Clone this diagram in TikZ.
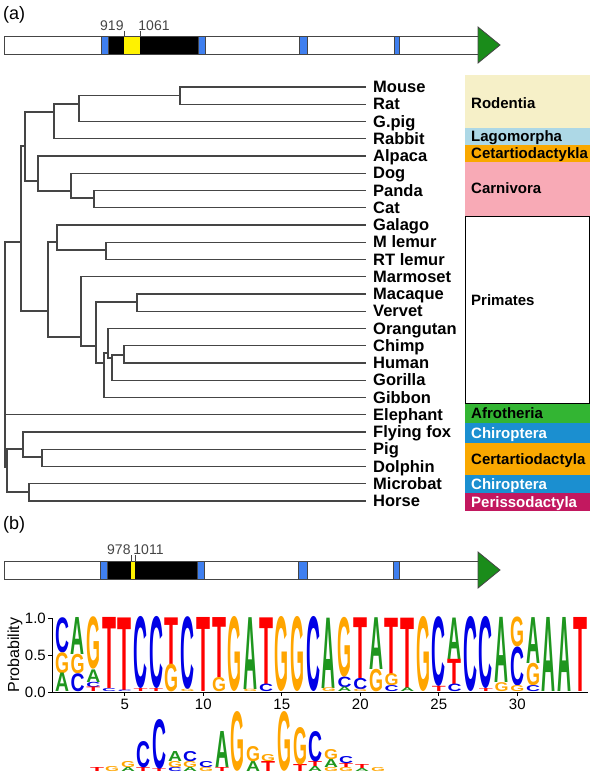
\documentclass[tikz,border=0pt]{standalone}
\usepackage{fontspec}
\setmainfont{Liberation Sans}
\usepackage{graphicx}

\definecolor{rodcol}{HTML}{F6F0C8}
\definecolor{lagcol}{HTML}{ADD8E6}
\definecolor{artcol}{HTML}{F9A800}
\definecolor{carcol}{HTML}{F8AAB6}
\definecolor{afrcol}{HTML}{33B533}
\definecolor{chicol}{HTML}{1B8FD0}
\definecolor{percol}{HTML}{C2185F}
\definecolor{exoncol}{HTML}{3F7FEF}
\definecolor{arrcol}{HTML}{1A8C1A}
\definecolor{treecol}{HTML}{454545}
\definecolor{baseA}{HTML}{1E961E}
\definecolor{baseC}{HTML}{0000E6}
\definecolor{baseG}{HTML}{FFA500}
\definecolor{baseT}{HTML}{FF0000}

\tikzset{
  branch/.style={draw=treecol, line width=1.1pt},
  species/.style={anchor=base west, inner sep=0pt, font=\fontsize{16.5}{18}\selectfont\bfseries},
  clade/.style={anchor=base west, inner sep=0pt, font=\fontsize{15}{17}\selectfont\bfseries},
  panel/.style={anchor=west, inner sep=0pt, font=\fontsize{18}{20}\selectfont},
  poslab/.style={inner sep=0pt, font=\fontsize{14}{16}\selectfont},
  axislab/.style={inner sep=0pt, font=\fontsize{15}{17}\selectfont},
  gene/.style={fill=white, draw=treecol, line width=0.9pt},
  exon/.style={fill=exoncol, draw=treecol, line width=0.8pt},
  tip/.style={fill=arrcol, draw=treecol, line width=0.8pt},
}

% x, y bottom, y top, letter, colour
\newcommand{\seqlet}[5]{%
  \pgfmathsetmacro\lgh{#2-#3}%
  \node[inner sep=0pt, anchor=south, text=#5] at (#1,#2) {\resizebox{14pt}{\lgh pt}{\bfseries #4}};}
% column, p low, p high, letter, colour
\newcommand{\toplet}[5]{%
  \pgfmathsetmacro\lgx{62+15.7*(#1-1)}%
  \pgfmathsetmacro\lglo{692-74*#2}%
  \pgfmathsetmacro\lghi{692-74*#3}%
  \seqlet{\lgx}{\lglo}{\lghi}{#4}{#5}}

\begin{document}
\begin{tikzpicture}[x=1pt, y=-1pt]
  \useasboundingbox (0,0) rectangle (600,777);

  % (a) gene bar
  \node[panel] (pa) at (3,15) {(a)};
  \draw[gene] (4,36) rectangle (478,54);
  \fill[black] (108,36) rectangle (198,54);
  \draw[treecol, line width=0.9pt] (108,36) -- (198,36) (108,54) -- (198,54);
  \fill[yellow] (124,36.5) rectangle (140,53.5);
  \foreach \xa/\xb in {101/108, 198/205, 299/307, 394/399}
    \draw[exon] (\xa,36) rectangle (\xb,54);
  \draw[tip] (478,27) -- (500,45) -- (478,63) -- cycle;
  \coordinate (ta) at (124,36);
  \coordinate (tb) at (140,36);
  \draw[treecol, line width=0.9pt] (ta) -- ++(0,-5) node[poslab, anchor=south east] (la) {919};
  \draw[treecol, line width=0.9pt] (tb) -- ++(0,-5) node[poslab, anchor=south west, xshift=-2pt] (lb) {1061};

  % tree
  \foreach \sp [count=\i from 0] in {Mouse,Rat,G.pig,Rabbit,Alpaca,Dog,Panda,Cat,Galago,M lemur,RT lemur,Marmoset,Macaque,Vervet,Orangutan,Chimp,Human,Gorilla,Gibbon,Elephant,Flying fox,Pig,Dolphin,Microbat,Horse} {
    \coordinate (leaf\i) at (366,{87+17.25*\i});
    \node[species] (lab\i) at (373,{92.5+17.25*\i}) {\sp};
  }
  \coordinate (nMR) at (180,95.5);
  \coordinate (nRod) at (79,104);
  \coordinate (nGli) at (54,112);
  \coordinate (nPC) at (94,198);
  \coordinate (nCar) at (71,191);
  \coordinate (nLau) at (38,181);
  \coordinate (nTop) at (25,146);
  \coordinate (nLem) at (106,250);
  \coordinate (nStr) at (57,242);
  \coordinate (nOwm) at (137,302);
  \coordinate (nHC) at (124,355);
  \coordinate (nHCG) at (112,358);
  \coordinate (nGA) at (108,353);
  \coordinate (nApe) at (104,363);
  \coordinate (nCat) at (96,346);
  \coordinate (nHap) at (81,337);
  \coordinate (nPri) at (48,311);
  \coordinate (nBor) at (21,242);
  \coordinate (nPD) at (42,457);
  \coordinate (nFPD) at (23,449);
  \coordinate (nMH) at (29,492);
  \coordinate (nLB) at (7,467);
  \coordinate (nRoot) at (5,330);
  \foreach \a/\b in {nMR/leaf0, nMR/leaf1, nRod/nMR, nRod/leaf2, nGli/nRod, nGli/leaf3,
      nTop/nGli, nTop/nLau, nLau/leaf4, nLau/nCar, nCar/leaf5, nCar/nPC, nPC/leaf6, nPC/leaf7,
      nBor/nTop, nBor/nPri, nPri/nStr, nPri/nHap, nStr/leaf8, nStr/nLem, nLem/leaf9, nLem/leaf10,
      nHap/leaf11, nHap/nCat, nCat/nOwm, nCat/nApe, nOwm/leaf12, nOwm/leaf13,
      nApe/nGA, nApe/leaf18, nGA/leaf14, nGA/nHCG, nHCG/nHC, nHCG/leaf17, nHC/leaf15, nHC/leaf16,
      nRoot/nBor, nRoot/leaf19, nRoot/nLB, nLB/nFPD, nLB/nMH, nFPD/leaf20, nFPD/nPD,
      nPD/leaf21, nPD/leaf22, nMH/leaf23, nMH/leaf24}
    \draw[branch] (\a) |- (\b);

  % clade boxes
  \foreach \ya/\yb/\yl/\col/\txt/\tcol [count=\j] in {
      75/128/108/rodcol/Rodentia/black,
      128/145/141/lagcol/Lagomorpha/black,
      145/162/158/artcol/Cetartiodactykla/black,
      162/215.5/193/carcol/Carnivora/black,
      403/423/418.5/afrcol/Afrotheria/black,
      423/443/438.5/chicol/Chiroptera/white,
      443/475/464/artcol/Certartiodactyla/black,
      475/493/489/chicol/Chiroptera/white,
      493/511/507.5/percol/Perissodactyla/white} {
    \fill[\col] (465,\ya) rectangle (590,\yb);
    \node[clade, text=\tcol] (clade\j) at (471,\yl) {\txt};
  }
  \draw[black, line width=0.9pt] (465,216) rectangle (589.5,403);
  \node[clade] (primates) at (471,305.5) {Primates};

  % (b) gene bar
  \node[panel] (pb) at (3,525) {(b)};
  \draw[gene] (4,561) rectangle (478,579);
  \fill[black] (107,561) rectangle (197,579);
  \draw[treecol, line width=0.9pt] (107,561) -- (197,561) (107,579) -- (197,579);
  \fill[yellow] (131,561.5) rectangle (135,578.5);
  \foreach \xa/\xb in {100/107, 197/204, 298/307, 393/399}
    \draw[exon] (\xa,561) rectangle (\xb,579);
  \draw[tip] (478,552) -- (500,570) -- (478,588) -- cycle;
  \coordinate (tc) at (131,561);
  \coordinate (td) at (135,561);
  \draw[treecol, line width=0.9pt] (tc) -- ++(0,-6) node[poslab, anchor=south east] (lc) {978};
  \draw[treecol, line width=0.9pt] (td) -- ++(0,-6) node[poslab, anchor=south west, xshift=-2pt] (ld) {1011};

  % logo axes
  \draw[black, line width=0.9pt] (52,618) -- (52,692) -- (588,692);
  \foreach \p/\yy in {0.0/692, 0.5/655, 1.0/618} {
    \draw[black, line width=0.9pt] (52,\yy) -- (48,\yy);
    \node[axislab, anchor=east] at (46,\yy) {\p};
  }
  \foreach \c in {5,10,15,20,25,30} {
    \draw[black, line width=0.9pt] ({62+15.7*(\c-1)},692) -- ++(0,4);
    \node[axislab, anchor=north] at ({62+15.7*(\c-1)},699) {\c};
  }
  \node[axislab, rotate=90, font=\fontsize{16}{18}\selectfont] (prob) at (15,655) {Probability};

  % logo letters
  \toplet{1}{.53}{1}{C}{baseC} \toplet{1}{.25}{.53}{G}{baseG} \toplet{1}{0}{.25}{A}{baseA}
  \toplet{2}{.5}{1}{A}{baseA} \toplet{2}{.24}{.5}{G}{baseG} \toplet{2}{0}{.24}{C}{baseC}
  \toplet{3}{.3}{1}{G}{baseG} \toplet{3}{.13}{.3}{A}{baseA} \toplet{3}{.06}{.13}{C}{baseC} \toplet{3}{0}{.06}{T}{baseT}
  \toplet{4}{.04}{1}{T}{baseT} \toplet{4}{0}{.04}{C}{baseC}
  \toplet{5}{.02}{1}{T}{baseT} \toplet{5}{0}{.02}{C}{baseC}
  \toplet{6}{.04}{1}{C}{baseC} \toplet{6}{0}{.04}{T}{baseT}
  \toplet{7}{.04}{1}{C}{baseC} \toplet{7}{0}{.04}{T}{baseT}
  \toplet{8}{.37}{1}{T}{baseT} \toplet{8}{0}{.37}{G}{baseG}
  \toplet{9}{.03}{1}{C}{baseC} \toplet{9}{0}{.03}{G}{baseG}
  \toplet{10}{0}{1}{T}{baseT}
  \toplet{11}{.19}{1}{T}{baseT} \toplet{11}{0}{.19}{G}{baseG}
  \toplet{12}{0}{1}{G}{baseG}
  \toplet{13}{.03}{1}{A}{baseA} \toplet{13}{0}{.03}{G}{baseG}
  \toplet{14}{.1}{1}{T}{baseT} \toplet{14}{0}{.1}{C}{baseC}
  \toplet{15}{0}{1}{G}{baseG}
  \toplet{16}{0}{1}{G}{baseG}
  \toplet{17}{0}{1}{C}{baseC}
  \toplet{18}{.05}{1}{A}{baseA} \toplet{18}{0}{.05}{G}{baseG}
  \toplet{19}{.2}{1}{G}{baseG} \toplet{19}{.06}{.2}{C}{baseC} \toplet{19}{0}{.06}{A}{baseA}
  \toplet{20}{.18}{1}{T}{baseT} \toplet{20}{.03}{.18}{C}{baseC} \toplet{20}{0}{.03}{G}{baseG}
  \toplet{21}{.3}{1}{A}{baseA} \toplet{21}{0}{.3}{G}{baseG}
  \toplet{22}{.24}{1}{T}{baseT} \toplet{22}{.08}{.24}{G}{baseG} \toplet{22}{0}{.08}{C}{baseC}
  \toplet{23}{.05}{1}{T}{baseT} \toplet{23}{0}{.05}{A}{baseA}
  \toplet{24}{0}{1}{G}{baseG}
  \toplet{25}{.07}{1}{C}{baseC} \toplet{25}{0}{.07}{T}{baseT}
  \toplet{26}{.44}{1}{A}{baseA} \toplet{26}{.1}{.44}{T}{baseT} \toplet{26}{0}{.1}{C}{baseC}
  \toplet{27}{0}{1}{C}{baseC}
  \toplet{28}{.04}{1}{C}{baseC} \toplet{28}{0}{.04}{T}{baseT}
  \toplet{29}{.12}{1}{A}{baseA} \toplet{29}{0}{.12}{G}{baseG}
  \toplet{30}{.6}{1}{G}{baseG} \toplet{30}{.08}{.6}{C}{baseC} \toplet{30}{0}{.08}{G}{baseG}
  \toplet{31}{.38}{1}{A}{baseA} \toplet{31}{.08}{.38}{G}{baseG} \toplet{31}{0}{.08}{C}{baseC}
  \toplet{32}{0}{1}{A}{baseA}
  \toplet{33}{0}{1}{A}{baseA}
  \toplet{34}{0}{1}{T}{baseT}

  % second logo, cut at the bottom
  \seqlet{97}{772}{768}{T}{baseT}
  \seqlet{112}{772}{767}{G}{baseG}
  \seqlet{128}{772}{768}{A}{baseA} \seqlet{128}{768}{762}{G}{baseG}
  \seqlet{143}{772}{768}{T}{baseT} \seqlet{143}{768}{742}{C}{baseC}
  \seqlet{159}{772}{769}{T}{baseT} \seqlet{159}{769}{720}{C}{baseC}
  \seqlet{175}{772}{768}{C}{baseC} \seqlet{175}{768}{762}{G}{baseG} \seqlet{175}{762}{752}{A}{baseA}
  \seqlet{190}{772}{768}{A}{baseA} \seqlet{190}{768}{762}{G}{baseG} \seqlet{190}{762}{752}{C}{baseC}
  \seqlet{206}{772}{768}{G}{baseG} \seqlet{206}{768}{762}{C}{baseC}
  \seqlet{222}{772}{768}{T}{baseT} \seqlet{222}{768}{732}{A}{baseA}
  \seqlet{237}{772}{713}{G}{baseG}
  \seqlet{253}{772}{762}{A}{baseA} \seqlet{253}{762}{747}{G}{baseG}
  \seqlet{268}{772}{762}{T}{baseT} \seqlet{268}{762}{755}{G}{baseG}
  \seqlet{284}{772}{713}{G}{baseG}
  \seqlet{300}{772}{765}{T}{baseT} \seqlet{300}{765}{728}{G}{baseG}
  \seqlet{315}{772}{767}{A}{baseA} \seqlet{315}{767}{762}{T}{baseT} \seqlet{315}{762}{732}{C}{baseC}
  \seqlet{331}{772}{768}{G}{baseG} \seqlet{331}{768}{760}{A}{baseA} \seqlet{331}{760}{750}{G}{baseG}
  \seqlet{346}{772}{768}{G}{baseG} \seqlet{346}{768}{764}{T}{baseT} \seqlet{346}{764}{757}{C}{baseC}
  \seqlet{362}{772}{769}{A}{baseA} \seqlet{362}{769}{765}{T}{baseT}
  \seqlet{378}{772}{768}{G}{baseG}
\end{tikzpicture}
\end{document}
